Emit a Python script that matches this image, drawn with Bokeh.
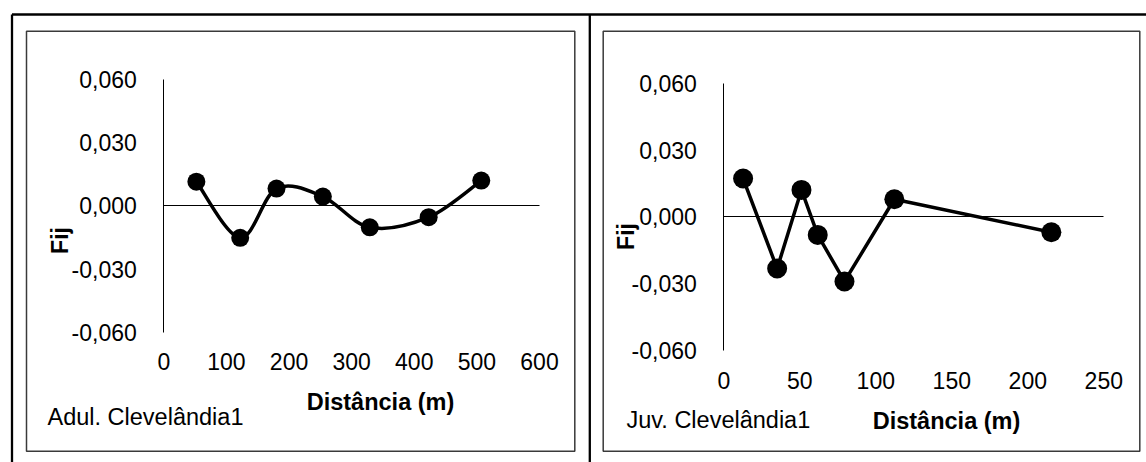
import math
from bokeh.plotting import figure
from bokeh.models import (Range1d, LinearAxis, FixedTicker, CustomJSTickFormatter,
                          Label)
from bokeh.embed import file_html
from bokeh.resources import INLINE

# ---------------- data ----------------
adult_dist = [52, 122, 180, 254, 329, 423, 507]
adult_fij = [0.0115, -0.0152, 0.0082, 0.0044, -0.0102, -0.0054, 0.0120]

juv_dist = [12.7, 35.1, 51.1, 61.8, 79.4, 112.2, 215.5]
juv_fij = [0.0172, -0.0232, 0.0121, -0.0081, -0.0290, 0.0079, -0.0069]

y_ticks = [-0.06, -0.03, 0.0, 0.03, 0.06]
adult_x_ticks = [0, 100, 200, 300, 400, 500, 600]
juv_x_ticks = [0, 50, 100, 150, 200, 250]

x_title = "Distância (m)"
y_title = "Fij"
adult_name = "Adul. Clevelândia1"
juv_name = "Juv. Clevelândia1"

# ---------------- layout (pixels) ----------------
W, H = 1146, 462
FONT = "Liberation Sans"
TICK_FS = "23px"
TEXT_FS = "23.5px"


def xr(v_a, px_a, v_b, px_b):
    k = (px_b - px_a) / (v_b - v_a)
    return Range1d(v_a - px_a / k, v_a + (W - px_a) / k)


def yr(v_a, py_a, v_b, py_b):
    k = (py_b - py_a) / (v_b - v_a)
    return Range1d(v_a + (H - py_a) / k, v_a - py_a / k)


p = figure(width=W, height=H, output_backend="svg", toolbar_location=None,
           x_axis_type=None, y_axis_type=None, min_border=0,
           x_range=Range1d(0, W), y_range=Range1d(H, 0))
p.outline_line_color = None
p.background_fill_color = "white"
p.border_fill_color = "white"

p.extra_x_ranges = {
    "xl": xr(0, 163.3, 600, 539.0),
    "xr": xr(0, 723.3, 250, 1103.3),
}
p.extra_y_ranges = {
    "yl": yr(0.06, 79.0, -0.06, 331.7),
    "yr": yr(0.06, 82.7, -0.06, 350.0),
}

# table lines
p.segment(x0=[11.5, 11.5, 589.3], y0=[14, 14, 14], x1=[W, 11.5, 589.3], y1=[14, H, H],
          line_color="black", line_width=2.3)
# chart frames
p.quad(left=[26, 602.7], right=[574.3, 1139.3], top=[30.7, 30.7], bottom=[450.7, 450.7],
       fill_color=None, line_color="#3a3a3a", line_width=1.5)


def make_panel(xname, yname, xs, ys, xticks, xmax, smooth, dot, lbl_standoff):
    # zero line (horizontal axis line)
    zax = LinearAxis(x_range_name=xname, y_range_name=yname, fixed_location=0,
                     ticker=FixedTicker(ticks=[]), bounds=(0, xmax),
                     axis_line_color="black", axis_line_width=1,
                     major_tick_line_color=None, minor_tick_line_color=None,
                     major_label_text_font_size="0px")
    p.add_layout(zax, "below")
    # x tick labels at bottom
    xax = LinearAxis(x_range_name=xname, y_range_name=yname, fixed_location=-0.06,
                     ticker=FixedTicker(ticks=xticks), bounds=(0, xmax),
                     formatter=CustomJSTickFormatter(code="return tick.toFixed(0);"),
                     axis_line_color=None, major_tick_line_color=None,
                     minor_tick_line_color=None, major_label_standoff=lbl_standoff,
                     major_label_text_font=FONT, major_label_text_font_size=TICK_FS,
                     major_label_text_color="black")
    p.add_layout(xax, "below")
    # y axis
    yax = LinearAxis(x_range_name=xname, y_range_name=yname, fixed_location=0,
                     ticker=FixedTicker(ticks=y_ticks), bounds=(-0.06, 0.06),
                     formatter=CustomJSTickFormatter(
                         code="return tick.toFixed(3).replace('.', ',');"),
                     axis_line_color="black", axis_line_width=1,
                     major_tick_line_color=None, minor_tick_line_color=None,
                     major_label_standoff=21,
                     major_label_text_font=FONT, major_label_text_font_size=TICK_FS,
                     major_label_text_color="black")
    p.add_layout(yax, "left")

    if smooth:
        n = len(xs)
        x0, y0, x1, y1, cx0, cy0, cx1, cy1 = [], [], [], [], [], [], [], []
        for i in range(n - 1):
            pm = max(i - 1, 0)
            pn = min(i + 2, n - 1)
            x0.append(xs[i]); y0.append(ys[i])
            x1.append(xs[i + 1]); y1.append(ys[i + 1])
            cx0.append(xs[i] + (xs[i + 1] - xs[pm]) / 6.0)
            cy0.append(ys[i] + (ys[i + 1] - ys[pm]) / 6.0)
            cx1.append(xs[i + 1] - (xs[pn] - xs[i]) / 6.0)
            cy1.append(ys[i + 1] - (ys[pn] - ys[i]) / 6.0)
        p.bezier(x0=x0, y0=y0, x1=x1, y1=y1, cx0=cx0, cy0=cy0, cx1=cx1, cy1=cy1,
                 line_color="black", line_width=3.5, line_cap="round",
                 x_range_name=xname, y_range_name=yname)
    else:
        p.line(xs, ys, line_color="black", line_width=3.5, line_join="round",
               x_range_name=xname, y_range_name=yname)
    p.scatter(xs, ys, size=dot, fill_color="black", line_color=None,
              x_range_name=xname, y_range_name=yname)


make_panel("xl", "yl", adult_dist, adult_fij, adult_x_ticks, 600, True, 18, 15)
make_panel("xr", "yr", juv_dist, juv_fij, juv_x_ticks, 250, False, 20, 15)

texts = [
    dict(x=59, y=240, text=y_title, angle=math.pi / 2, align="center", bold=True, fs="23px"),
    dict(x=625, y=236, text=y_title, angle=math.pi / 2, align="center", bold=True, fs="23px"),
    dict(x=380, y=401, text=x_title, angle=0, align="center", bold=True, fs=TEXT_FS),
    dict(x=946, y=420, text=x_title, angle=0, align="center", bold=True, fs=TEXT_FS),
    dict(x=47, y=416, text=adult_name, angle=0, align="left", bold=False, fs=TEXT_FS),
    dict(x=626, y=419.5, text=juv_name, angle=0, align="left", bold=False, fs=TEXT_FS),
]
for t in texts:
    p.add_layout(Label(x=t["x"], y=t["y"], text=t["text"], angle=t["angle"],
                       text_align=t["align"], text_baseline="middle",
                       text_font=FONT, text_font_size=t["fs"],
                       text_font_style="bold" if t["bold"] else "normal",
                       text_color="black"))

open("out.html", "w").write(file_html(p, INLINE))
